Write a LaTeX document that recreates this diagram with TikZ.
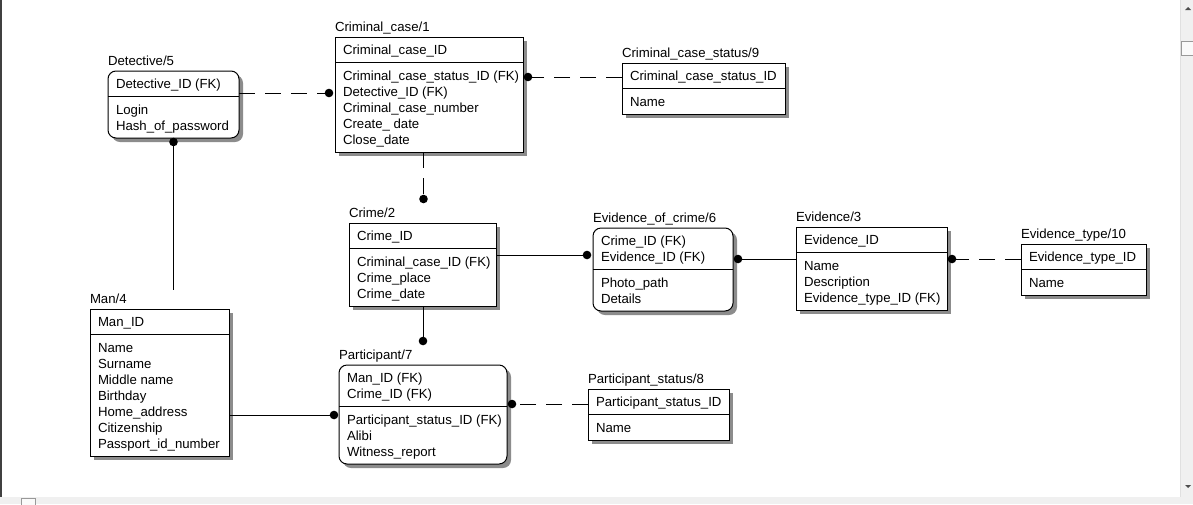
\documentclass[tikz,border=0pt]{standalone}
\usepackage{fontspec}
\setmainfont{Liberation Sans}
\usetikzlibrary{calc,shadows}

\tikzset{
  ent/.style={draw=black, line width=1pt, fill=white, outer sep=0pt, inner sep=0pt,
    drop shadow={shadow xshift=4pt, shadow yshift=-4pt, fill=black!45, opacity=1}},
  entr/.style={ent, rounded corners=8pt},
  txt/.style={inner sep=0pt, outer sep=0pt, font=\fontsize{13.2}{16}\selectfont, anchor=base west},
  rel/.style={line width=1pt},
  reld/.style={line width=1pt, dash pattern=on 16pt off 10pt},
  divline/.style={line width=1pt},
}

\newcommand\ent[8]{%
  \foreach \t [count=\i] in {#7} {\xdef\nk{\i}}%
  \foreach \t [count=\i] in {#8} {\xdef\na{\i}}%
  \pgfmathsetmacro\dy{#4+25+16*(\nk-1)}%
  \pgfmathsetmacro\by{\dy+26+16*(\na-1)}%
  \node[#2, minimum width=#5-#3, minimum height=\by-#4, anchor=north west] (#1) at (#3,#4) {};
  \draw[divline] (#3,\dy) -- (#5,\dy);
  \node[txt] (#1-t) at (#3,#4-5.5) {#6};
  \foreach \t [count=\i] in {#7} \node[txt] (#1-k\i) at (#3+8,#4+17+16*\i-16) {\t};
  \foreach \t [count=\i] in {#8} \node[txt] (#1-a\i) at (#3+8,\dy+18.5+16*\i-16) {\t};
}

\begin{document}
\begin{tikzpicture}[x=1pt, y=-1pt]
\useasboundingbox (0,0) rectangle (1193,504);
\fill[white] (0,0) rectangle (1193,504);

% window chrome
\fill[black!6] (1180,0) rectangle (1193,504);
\draw[black!12] (1180,0) -- (1180,497);
\fill[black!6] (0,497) rectangle (1193,504);
\fill[black!75] (0,0) rectangle (1.5,497);
\fill[black!70] (1185,10) -- (1188,7) -- (1191,10) -- cycle;
\draw[black!40, fill=black!2] (1181,41) rectangle (1194,55);
\fill[black!70] (1185,485) -- (1191,485) -- (1188,488) -- cycle;
\draw[black!40, fill=black!2] (21,498) rectangle (35,505);

% entities
\ent{cc}{ent}{335}{37}{523}{Criminal\_case/1}{Criminal\_case\_ID}{Criminal\_case\_status\_ID (FK),Detective\_ID (FK),Criminal\_case\_number,Create\_ date,Close\_date}
\ent{det}{entr}{108}{71}{239}{Detective/5}{Detective\_ID (FK)}{Login,Hash\_of\_password}
\ent{ccs}{ent}{622}{63}{785}{Criminal\_case\_status/9}{Criminal\_case\_status\_ID}{Name}
\ent{crime}{ent}{349}{223}{496}{Crime/2}{Crime\_ID}{Criminal\_case\_ID (FK),Crime\_place,Crime\_date}
\ent{eoc}{entr}{593}{228}{733}{Evidence\_of\_crime/6}{Crime\_ID (FK),Evidence\_ID (FK)}{Photo\_path,Details}
\ent{ev}{ent}{796}{227}{947}{Evidence/3}{Evidence\_ID}{Name,Description,Evidence\_type\_ID (FK)}
\ent{et}{ent}{1021}{244}{1146}{Evidence\_type/10}{Evidence\_type\_ID}{Name}
\ent{man}{ent}{90}{309}{229}{Man/4}{Man\_ID}{Name,Surname,Middle name,Birthday,Home\_address,Citizenship,Passport\_id\_number}
\ent{par}{entr}{339}{365}{507}{Participant/7}{Man\_ID (FK),Crime\_ID (FK)}{Participant\_status\_ID (FK),Alibi,Witness\_report}
\ent{ps}{ent}{588}{389}{729}{Participant\_status/8}{Participant\_status\_ID}{Name}

% connector end points (dots)
\coordinate (d1) at ($(cc.north west)+(-6,56)$);
\coordinate (d2) at ($(cc.north east)+(5,40)$);
\coordinate (d3) at ($(crime.north)+(1,-24)$);
\coordinate (d4) at ($(eoc.north west)+(-6,27)$);
\coordinate (d5) at ($(eoc.north east)+(5,31)$);
\coordinate (d6) at ($(ev.north east)+(5,32)$);
\coordinate (d7) at ($(det.south)+(0,4)$);
\coordinate (m7) at ($(man.north -| d7)+(0,-19)$);
\coordinate (d8) at ($(par.north west)+(-5,50)$);
\coordinate (d9) at ($(par.north)+(0,-24)$);
\coordinate (d10) at ($(par.north east)+(5,39)$);

% connectors
\draw[reld] (det.east |- d1) -- (d1);
\draw[reld] (ccs.west |- d2) -- (d2);
\draw[reld] (cc.south -| d3) -- (d3);
\draw[rel] (crime.east |- d4) -- (d4);
\draw[rel] (ev.west |- d5) -- (d5);
\draw[reld] (et.west |- d6) -- (d6);
\draw[rel] (d7) -- (m7);
\draw[rel] (man.east |- d8) -- (d8);
\draw[rel] (crime.south -| d9) -- (d9);
\draw[reld] (ps.west |- d10) -- (d10);

\foreach \p in {d1,d2,d3,d4,d5,d6,d7,d8,d9,d10} \fill[black] (\p) circle (4.3);
\end{tikzpicture}
\end{document}
